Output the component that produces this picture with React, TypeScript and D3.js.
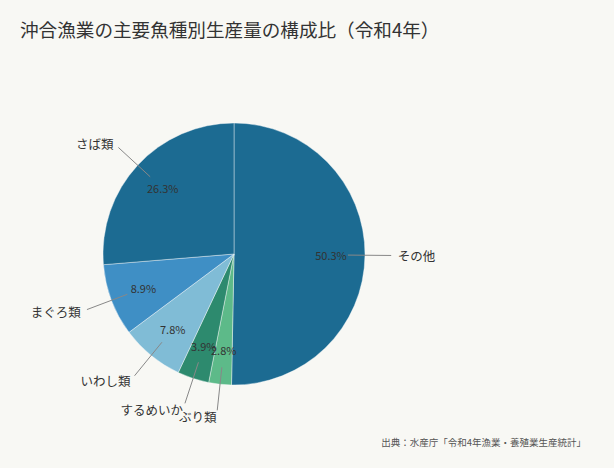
import { useEffect, useRef } from 'react'
import * as d3 from 'd3'

const title = '沖合漁業の主要魚種別生産量の構成比（令和4年）'
const source = '出典：水産庁「令和4年漁業・養殖業生産統計」'

// clockwise from 12 o'clock
const species = ['その他', 'ぶり類', 'するめいか', 'いわし類', 'まぐろ類', 'さば類']
const shares = [50.3, 2.8, 3.9, 7.8, 8.9, 26.3]
const colors = ['#1c6b92', '#5dba89', '#2d8a6e', '#80bcd6', '#3f8fc5', '#1c6b92']

const W = 614
const H = 468
const FONT = '"Noto Sans CJK JP", "Noto Sans", sans-serif'

export default function App() {
  const svgRef = useRef<SVGSVGElement>(null)

  useEffect(() => {
    if (!svgRef.current) return
    const svg = d3.select(svgRef.current)
    svg.selectAll('*').remove()

    const cx = 234
    const cy = 254
    const r = 131

    svg.append('rect').attr('width', W).attr('height', H).style('fill', '#f8f8f4')

    svg.append('text')
      .attr('x', 20)
      .attr('y', 37)
      .style('font-family', FONT)
      .style('font-size', '18.6px')
      .style('fill', '#333')
      .text(title)

    const data = species.map((name, i) => ({ name, value: shares[i], color: colors[i] }))

    const pie = d3.pie<any>().sort(null).value(d => d.value)
    const arcs = pie(data)
    const arc = d3.arc<any>().innerRadius(0).outerRadius(r)

    const g = svg.append('g').attr('transform', `translate(${cx},${cy})`)

    g.selectAll('path.slice')
      .data(arcs)
      .join('path')
      .attr('class', 'slice')
      .attr('d', arc)
      .style('fill', d => d.data.color)
      .style('stroke', 'rgba(255,255,255,0.4)')
      .style('stroke-width', 1)

    const pos = (a: number, k: number): [number, number] => [Math.sin(a) * r * k, -Math.cos(a) * r * k]

    arcs.forEach(d => {
      const mid = (d.startAngle + d.endAngle) / 2
      const [x1, y1] = pos(mid, 0.87)
      const [x2, y2] = pos(mid, 1.2)
      g.append('line')
        .attr('x1', x1).attr('y1', y1)
        .attr('x2', x2).attr('y2', y2)
        .style('stroke', '#888')
        .style('stroke-width', 1)

      const [px, py] = pos(mid, 0.74)
      g.append('text')
        .attr('x', px)
        .attr('y', py)
        .attr('text-anchor', 'middle')
        .attr('dominant-baseline', 'central')
        .style('font-family', FONT)
        .style('font-size', '11px')
        .style('fill', '#333')
        .text(`${d.data.value.toFixed(1)}%`)

      const [lx, ly] = pos(mid, 1.25)
      g.append('text')
        .attr('x', lx)
        .attr('y', ly)
        .attr('text-anchor', lx < 0 ? 'end' : 'start')
        .attr('dominant-baseline', 'central')
        .style('font-family', FONT)
        .style('font-size', '12.5px')
        .style('fill', '#333')
        .text(d.data.name)
    })

    svg.append('text')
      .attr('x', 586)
      .attr('y', 446)
      .attr('text-anchor', 'end')
      .style('font-family', FONT)
      .style('font-size', '9.5px')
      .style('fill', '#555')
      .text(source)
  }, [])

  return (
    <div style={{ position: 'absolute', left: 0, top: 0 }}>
      <svg ref={svgRef} width={W} height={H} style={{ display: 'block' }} />
    </div>
  )
}
